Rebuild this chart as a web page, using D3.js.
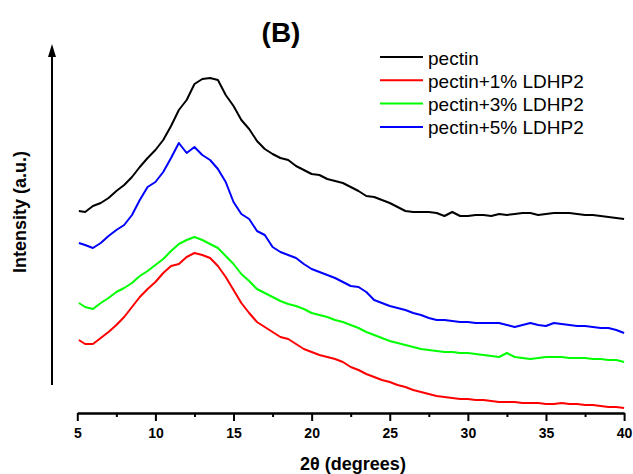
<!DOCTYPE html>
<html lang="en">
	<head>
		<meta charset="utf-8">
		<title>XRD pectin (B)</title>
		<script type="text/javascript" src="https://cdnjs.cloudflare.com/ajax/libs/d3/7.8.5/d3.min.js"></script>
		<style type="text/css">
			body{
				margin:0;
				background-color:white;
			}
			svg text{
				font-family: Arial, "Liberation Sans", sans-serif;
			}
			.axis path,
			.axis line {
				fill: none;
				stroke: black;
				stroke-width: 2px;
			}
			.axis text {
				font-size: 14px;
				font-weight: bold;
			}
		</style>
	</head>
	<body>
	<script type="text/javascript">
	// 2theta grid (degrees)
	var twoTheta = [5.1, 5.5, 6, 6.5, 7, 7.5, 8, 8.5, 9, 9.5, 10, 10.5, 11, 11.5, 12, 12.5, 13, 13.5, 14, 14.5,
		15, 15.5, 16, 16.5, 17, 17.5, 18, 18.5, 19, 19.5, 20, 20.5, 21, 21.5, 22, 22.5, 23, 23.5, 24, 24.5,
		25, 25.5, 26, 26.5, 27, 27.5, 28, 28.5, 29, 29.5, 30, 30.5, 31, 31.5, 32, 32.5, 33, 33.5, 34, 34.5,
		35, 35.5, 36, 36.5, 37, 37.5, 38, 38.5, 39, 39.5, 40];

	// intensities (a.u., stacked as plotted)
	var pectin = [200, 199, 205, 208, 213, 220, 226, 234, 244, 253, 261, 271, 285, 301, 311, 327, 332, 333, 331, 316,
		305, 291, 282, 270, 262, 257, 253, 251, 245, 241, 237, 236, 232, 230, 228, 224, 220, 215, 214, 211,
		208, 204, 200, 199, 199, 199, 198, 195, 199, 195, 195, 196, 196, 195, 197, 196, 197, 198, 198, 196,
		197, 198, 198, 198, 197, 196, 196, 195, 194, 193, 192];
	var pectin1 = [71, 67, 67, 73, 79, 86, 94, 104, 114, 122, 129, 138, 145, 147, 154, 158, 156, 153, 145, 134,
		121, 108, 98, 89, 84, 79, 74, 72, 67, 62, 59, 56, 54, 52, 49, 44, 41, 37, 34, 31,
		29, 26, 24, 21, 19, 17, 15, 14, 13, 12, 12, 11, 11, 10, 9, 9, 9, 8, 8, 8,
		7, 7, 8, 7, 7, 6, 6, 5, 4, 4, 3];
	var pectin3 = [108, 104, 102, 108, 113, 119, 123, 128, 135, 140, 146, 152, 160, 167, 171, 174, 171, 167, 163, 155,
		147, 137, 130, 122, 118, 114, 110, 107, 105, 102, 98, 96, 94, 91, 89, 86, 83, 79, 76, 73,
		70, 68, 66, 64, 62, 61, 60, 59, 59, 58, 58, 57, 56, 55, 54, 58, 54, 53, 52, 53,
		54, 54, 54, 53, 53, 53, 52, 52, 51, 51, 49];
	var pectin5 = [168, 166, 163, 168, 175, 181, 186, 196, 211, 224, 229, 239, 253, 268, 258, 264, 256, 251, 242, 229,
		209, 197, 192, 180, 176, 164, 159, 156, 153, 147, 142, 139, 136, 133, 129, 125, 124, 119, 111, 108,
		105, 103, 101, 98, 96, 93, 91, 91, 90, 89, 89, 88, 88, 88, 88, 86, 84, 86, 88, 86,
		85, 88, 87, 86, 85, 85, 84, 83, 83, 81, 78];

	var seriesNames = ['pectin', 'pectin+1% LDHP2', 'pectin+3% LDHP2', 'pectin+5% LDHP2'];
	var seriesColors = ['#000000', '#ff0000', '#00ff00', '#0000ff'];
	var seriesValues = [pectin, pectin1, pectin3, pectin5];
	var majorTicks = [5, 10, 15, 20, 25, 30, 35, 40];
	var minorTicks = [7.5, 12.5, 17.5, 22.5, 27.5, 32.5, 37.5];

	var width = 633, height = 474;
	var svg = d3.select('body').append('svg')
		.attr('width', width)
		.attr('height', height);

	var x = d3.scaleLinear().domain([5, 40]).range([77.3, 624.1]);
	var y = d3.scaleLinear().domain([0, 370]).range([411, 41]);

	// minor ticks
	svg.append('g')
		.attr('class', 'axis')
		.attr('transform', 'translate(0,413)')
		.call(d3.axisBottom(x).tickValues(minorTicks).tickSize(4).tickSizeOuter(0).tickFormat(''));

	// major ticks + labels
	svg.append('g')
		.attr('class', 'axis')
		.attr('transform', 'translate(0,413)')
		.call(d3.axisBottom(x).tickValues(majorTicks).tickSize(8).tickSizeOuter(0).tickPadding(7));

	svg.append('text')
		.attr('x', 353)
		.attr('y', 470)
		.attr('text-anchor', 'middle')
		.style('font-size', '18px')
		.style('font-weight', 'bold')
		.text('2θ (degrees)');

	// y axis arrow (no scale)
	svg.append('line')
		.attr('x1', 52).attr('x2', 52)
		.attr('y1', 385).attr('y2', 54)
		.attr('stroke', 'black')
		.attr('stroke-width', 2);
	svg.append('path')
		.attr('d', 'M52,44 L48,57 L56,57 Z')
		.attr('fill', 'black');

	svg.append('text')
		.attr('transform', 'translate(26,212) rotate(-90)')
		.attr('text-anchor', 'middle')
		.style('font-size', '18px')
		.style('font-weight', 'bold')
		.text('Intensity (a.u.)');

	svg.append('text')
		.attr('x', 281)
		.attr('y', 42)
		.attr('text-anchor', 'middle')
		.style('font-size', '28px')
		.style('font-weight', 'bold')
		.text('(B)');

	var line = d3.line()
		.x(function(d, i) { return x(twoTheta[i]); })
		.y(function(d) { return y(d); });

	svg.selectAll('.curve')
		.data(seriesValues)
		.enter().append('path')
		.attr('class', 'curve')
		.attr('d', line)
		.attr('fill', 'none')
		.attr('stroke', function(d, i) { return seriesColors[i]; })
		.attr('stroke-width', 2)
		.attr('stroke-linejoin', 'round');

	// legend
	var legend = svg.selectAll('.legend')
		.data(seriesNames)
		.enter().append('g')
		.attr('class', 'legend')
		.attr('transform', function(d, i) { return 'translate(380,' + (57 + i * 23.3) + ')'; });
	legend.append('line')
		.attr('x1', 0).attr('x2', 43)
		.attr('y1', 0).attr('y2', 0)
		.attr('stroke', function(d, i) { return seriesColors[i]; })
		.attr('stroke-width', 2);
	legend.append('text')
		.attr('x', 48)
		.attr('y', 7.5)
		.style('font-size', '19px')
		.text(function(d) { return d; });
	</script>
	</body>
</html>
